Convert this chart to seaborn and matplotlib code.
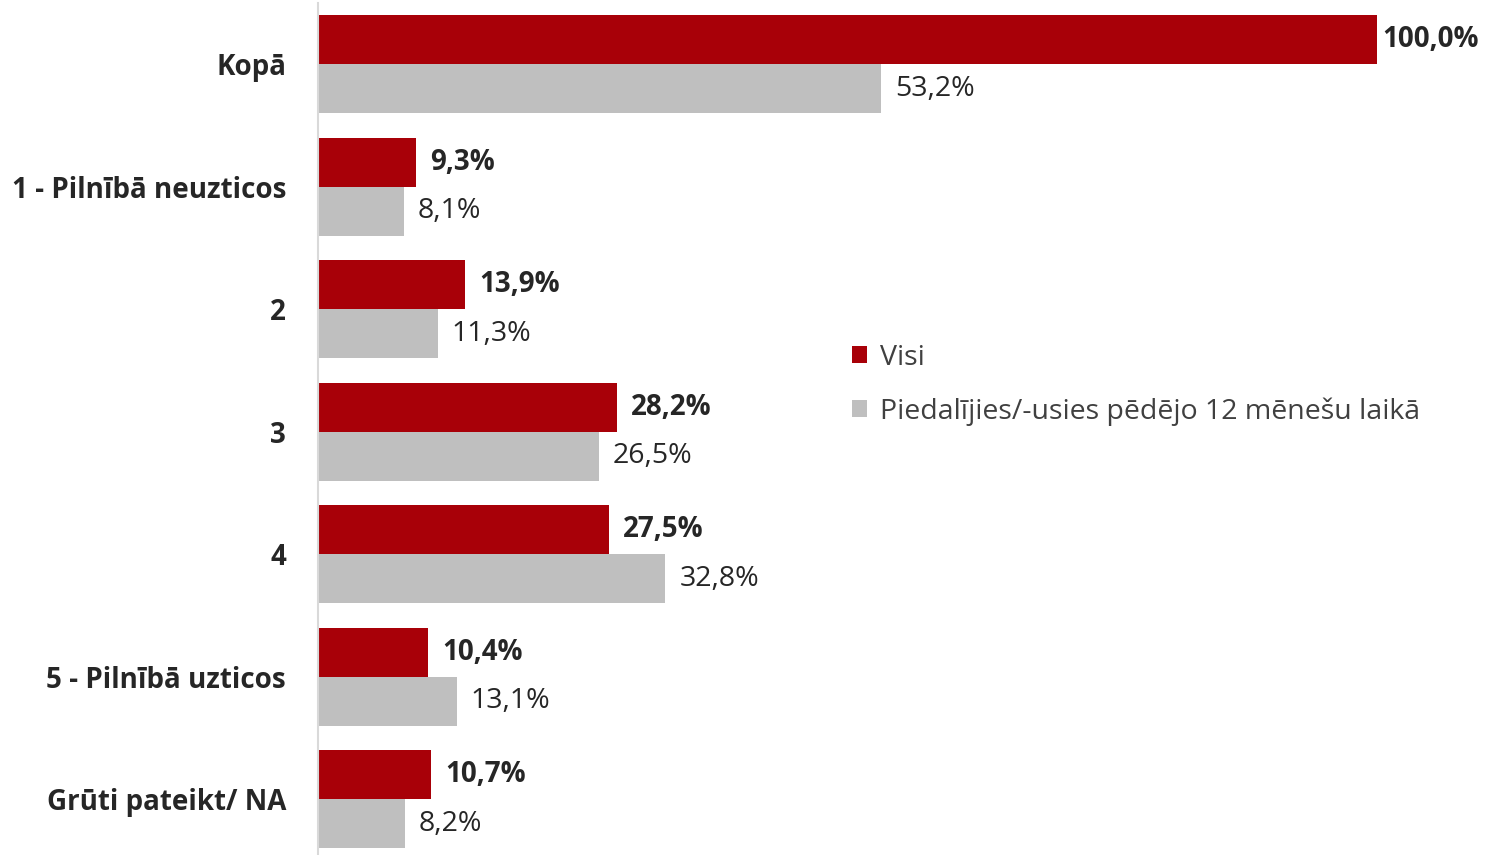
import matplotlib
matplotlib.use("Agg")
import matplotlib.pyplot as plt
import seaborn as sns
import pandas as pd

categories = ["Kopā", "1 - Pilnībā neuzticos", "2", "3", "4", "5 - Pilnībā uzticos", "Grūti pateikt/ NA"]
series_names = ["Visi", "Piedalījies/-usies pēdējo 12 mēnešu laikā"]
visi = [100.0, 9.3, 13.9, 28.2, 27.5, 10.4, 10.7]
piedal = [53.2, 8.1, 11.3, 26.5, 32.8, 13.1, 8.2]
colors = ["#A80008", "#BFBFBF"]

rows = []
for c, v in zip(categories, visi):
    rows.append({"cat": c, "series": series_names[0], "val": v})
for c, v in zip(categories, piedal):
    rows.append({"cat": c, "series": series_names[1], "val": v})
df = pd.DataFrame(rows)

sns.set_style("white")
plt.rcParams['font.family'] = ['Open Sans', 'DejaVu Sans']

W, H = 1486, 855
top_px, bot_px = 3.0, 860.5
fig = plt.figure(figsize=(W/100, H/100), dpi=100)
ax = fig.add_axes([318/W, 1 - bot_px/H, (W-318)/W, (bot_px-top_px)/H])
sns.barplot(data=df, y="cat", x="val", hue="series", order=categories,
            hue_order=series_names, palette=colors, orient="h",
            width=0.8, saturation=1, linewidth=0, ax=ax, legend=True)

ax.set_xlim(0, 1168/1059*100)
ax.set_ylim(6.5, -0.5)
ax.set_xlabel("")
ax.set_ylabel("")
ax.set_xticks([])
for s in ["top", "right", "bottom"]:
    ax.spines[s].set_visible(False)
ax.spines["left"].set_color("#D9D9D9")
ax.spines["left"].set_linewidth(1.5)
ax.tick_params(axis="y", length=0, pad=23)
for lbl in ax.get_yticklabels():
    lbl.set_fontsize(20)
    lbl.set_fontweight("bold")
    lbl.set_color("#262626")

for i, cont in enumerate(ax.containers):
    labels = [f"{b.get_width():.1f}%".replace(".", ",") for b in cont]
    anns = ax.bar_label(cont, labels=labels, padding=10, fontsize=20 if i == 0 else 20.5,
                        fontweight="bold" if i == 0 else "normal", color="#262626")
    if i == 0:
        anns[0].set_position((4, 0))

leg = ax.legend(loc="upper left", bbox_to_anchor=((826-318)/(W-318), 1 - (318-top_px)/(bot_px-top_px)),
                frameon=False, fontsize=20.5, handlelength=0.55, handleheight=0.55,
                labelspacing=0.9, handletextpad=0.45)
for t in leg.get_texts():
    t.set_color("#404040")

fig.savefig("out.png", dpi=100)
